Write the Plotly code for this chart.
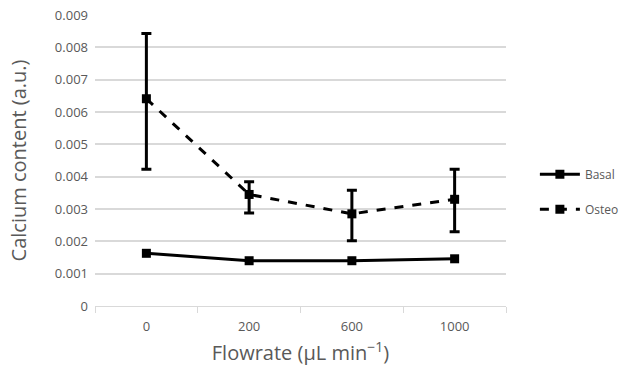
import plotly.graph_objects as go

categories = ["0", "200", "600", "1000"]
basal = [0.00163, 0.00140, 0.00140, 0.00146]
basal_err = [0.00006, 0.00004, 0.00004, 0.00005]
osteo = [0.00641, 0.00345, 0.00285, 0.00330]
osteo_up = [0.00843, 0.00384, 0.00358, 0.00423]
osteo_lo = [0.00423, 0.00288, 0.00202, 0.00230]
y_ticks = [0, 0.001, 0.002, 0.003, 0.004, 0.005, 0.006, 0.007, 0.008, 0.009]
y_ticklabels = ["0", "0.001", "0.002", "0.003", "0.004", "0.005", "0.006", "0.007", "0.008", "0.009"]

gray = "#595959"
fig = go.Figure()
fig.add_trace(go.Scatter(
    x=categories, y=basal, name="Basal", mode="lines+markers", legendgroup="b",
    line=dict(color="black", width=3),
    marker=dict(symbol="square", size=9, color="black"),
    error_y=dict(type="data", array=basal_err, color="black", thickness=2, width=3),
))
fig.add_trace(go.Scatter(
    x=categories, y=osteo, name="Osteo", mode="lines+markers", legendgroup="o",
    line=dict(color="black", width=3, dash="dash"),
    marker=dict(symbol="square", size=9, color="black"),
    error_y=dict(type="data", symmetric=False,
                 array=[u - v for u, v in zip(osteo_up, osteo)],
                 arrayminus=[v - l for v, l in zip(osteo, osteo_lo)],
                 color="black", thickness=3, width=5),
))
fig.update_layout(
    width=633, height=376,
    margin=dict(l=95, r=127, t=15, b=70, autoexpand=False),
    paper_bgcolor="white", plot_bgcolor="white",
    font=dict(family="Open Sans", color=gray, size=12),
    showlegend=True,
    legend=dict(xref="container", yref="container", x=0.845, y=0.49,
                xanchor="left", yanchor="middle",
                font=dict(size=12, color=gray), itemwidth=40,
                tracegroupgap=16),
    xaxis=dict(type="category", categoryorder="array", categoryarray=categories,
               range=[-0.5, 3.5],
               tickson="boundaries", ticks="outside", ticklen=6, tickcolor="#d9d9d9",
               showline=True, linecolor="#d9d9d9", linewidth=1, showgrid=False,
               tickfont=dict(size=13, color=gray), ticklabelstandoff=8,
               title=dict(text="Flowrate (μL min<sup>−1</sup>)", font=dict(size=20, color=gray), standoff=12)),
    yaxis=dict(range=[0, 0.009], tickvals=y_ticks, ticktext=y_ticklabels,
               showgrid=True, gridcolor="#d9d9d9", gridwidth=1.5, zeroline=False,
               tickfont=dict(size=13, color=gray), ticks="", ticklabelstandoff=6,
               title=dict(text="Calcium content (a.u.)", font=dict(size=20, color=gray), standoff=22)),
)
fig.write_html("out.html")
